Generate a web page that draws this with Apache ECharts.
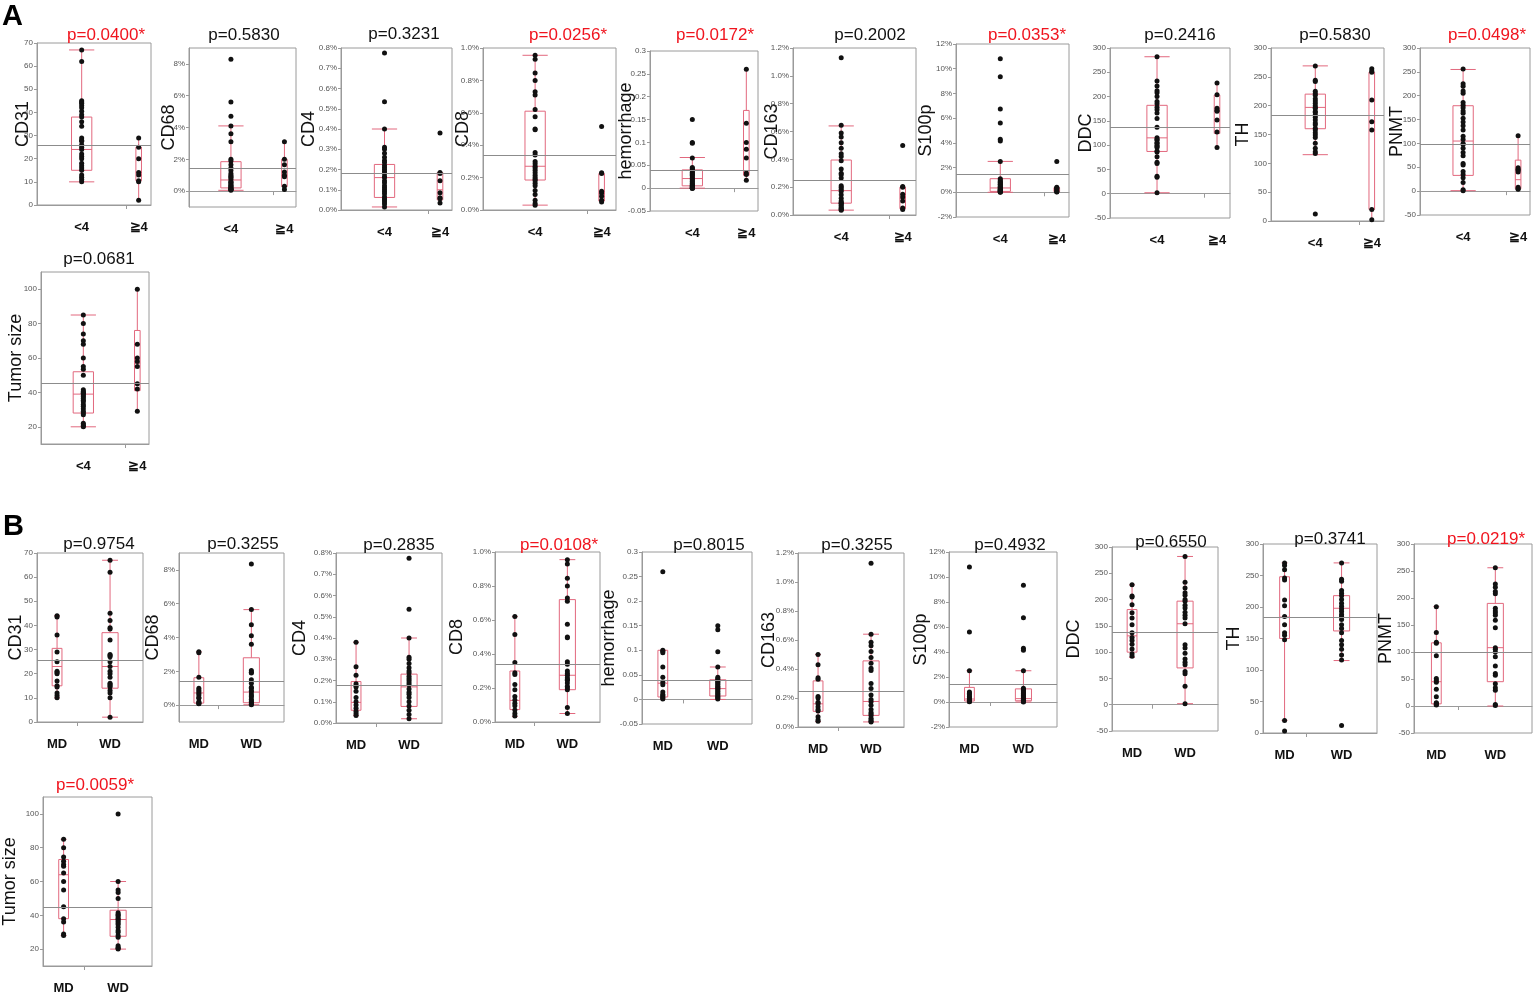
<!DOCTYPE html>
<html lang="en">
<head>
<meta charset="UTF-8">
<title>Box plots by group</title>
<style>
  html, body { margin: 0; background: #fff; }
  #chart { width: 1536px; height: 995px; }
</style>
</head>
<body>
<div id="chart"></div>
<script src="https://cdn.jsdelivr.net/npm/echarts@6/dist/echarts.min.js"></script>
<script>
// group names
var groupsA = ['<4', '≧4'];
var groupsB = ['MD', 'WD'];

// tick values of the y axes
var ticksCD31 = [0, 10, 20, 30, 40, 50, 60, 70];
var ticksCD68 = [0, 2, 4, 6, 8];
var ticksCD4 = [0, 0.1, 0.2, 0.3, 0.4, 0.5, 0.6, 0.7, 0.8];
var ticksCD8 = [0, 0.2, 0.4, 0.6, 0.8, 1.0];
var ticksHem = [-0.05, 0, 0.05, 0.1, 0.15, 0.2, 0.25, 0.3];
var ticksCD163 = [0, 0.2, 0.4, 0.6, 0.8, 1.0, 1.2];
var ticksS100 = [-2, 0, 2, 4, 6, 8, 10, 12];
var ticksDDC = [-50, 0, 50, 100, 150, 200, 250, 300];
var ticksTH = [0, 50, 100, 150, 200, 250, 300];
var ticksPNMT = [-50, 0, 50, 100, 150, 200, 250, 300];
var ticksTumor = [20, 40, 60, 80, 100];

// ---- panel A : <4 vs ≧4 ----  box = [min, Q1, median, Q3, max]
var aCD31Lo = [67, 62, 45, 44.5, 44, 43, 42, 40.5, 39, 38, 36, 34, 29, 28, 27.5, 26, 25, 24, 22, 21, 20, 18, 17, 16, 15, 13, 12, 11, 10];
var aCD31Hi = [29, 25, 20, 14, 13, 10.5, 10, 2];
var aCD31Box = [[10, 15, 24, 38, 67], [2, 10.5, 14, 25, 29]];
var aCD31Mean = 25.7;

var aCD68Lo = [8.3, 5.6, 4.7, 4.1, 3.6, 3.1, 2.0, 1.9, 1.65, 1.45, 1.3, 1.1, 1.0, 0.9, 0.85, 0.75, 0.6, 0.55, 0.5, 0.4, 0.35, 0.3, 0.25, 0.2, 0.15, 0.12, 0.1, 0.08, 0.05];
var aCD68Hi = [3.1, 2.0, 1.65, 1.2, 1.0, 0.9, 0.3, 0.1];
var aCD68Box = [[0.05, 0.2, 0.7, 1.85, 4.1], [0.1, 0.28, 1.0, 2.0, 3.1]];
var aCD68Mean = 1.46;

var aCD4Lo = [0.775, 0.535, 0.40, 0.31, 0.30, 0.28, 0.26, 0.245, 0.235, 0.22, 0.21, 0.20, 0.19, 0.18, 0.165, 0.16, 0.145, 0.135, 0.12, 0.11, 0.10, 0.09, 0.08, 0.065, 0.055, 0.05, 0.04, 0.03, 0.015];
var aCD4Hi = [0.38, 0.185, 0.18, 0.145, 0.085, 0.06, 0.055, 0.035];
var aCD4Box = [[0.015, 0.062, 0.16, 0.225, 0.40], [0.035, 0.05, 0.1, 0.185, 0.185]];
var aCD4Mean = 0.176;

var aCD8Lo = [0.955, 0.93, 0.845, 0.80, 0.73, 0.71, 0.62, 0.575, 0.50, 0.495, 0.355, 0.34, 0.30, 0.285, 0.27, 0.26, 0.245, 0.23, 0.215, 0.20, 0.19, 0.18, 0.165, 0.15, 0.12, 0.095, 0.06, 0.04, 0.03];
var aCD8Hi = [0.515, 0.23, 0.225, 0.115, 0.105, 0.085, 0.06, 0.05];
var aCD8Box = [[0.03, 0.185, 0.27, 0.61, 0.955], [0.05, 0.055, 0.1, 0.225, 0.23]];
var aCD8Mean = 0.336;

var aHemLo = [0.15, 0.10, 0.098, 0.066, 0.045, 0.043, 0.04, 0.038, 0.035, 0.032, 0.03, 0.028, 0.025, 0.022, 0.02, 0.018, 0.015, 0.012, 0.01, 0.008, 0.006, 0.005, 0.004, 0.003, 0.002, 0.001, 0, 0, 0];
var aHemHi = [0.26, 0.142, 0.10, 0.085, 0.066, 0.033, 0.03, 0.017];
var aHemBox = [[0, 0.005, 0.021, 0.04, 0.067], [0.017, 0.028, 0.083, 0.17, 0.26]];
var aHemMean = 0.042;

var aCD163Lo = [1.13, 0.645, 0.59, 0.56, 0.52, 0.48, 0.44, 0.42, 0.39, 0.33, 0.30, 0.29, 0.265, 0.21, 0.20, 0.185, 0.17, 0.145, 0.12, 0.10, 0.09, 0.085, 0.08, 0.07, 0.06, 0.05, 0.045, 0.04, 0.035];
var aCD163Hi = [0.50, 0.205, 0.2, 0.15, 0.13, 0.10, 0.05, 0.04];
var aCD163Box = [[0.035, 0.085, 0.175, 0.395, 0.64], [0.04, 0.045, 0.12, 0.2, 0.205]];
var aCD163Mean = 0.252;

var aS100Lo = [10.8, 9.35, 6.75, 5.6, 4.3, 4.15, 2.5, 1.1, 1.0, 0.9, 0.8, 0.75, 0.65, 0.6, 0.5, 0.45, 0.4, 0.35, 0.3, 0.25, 0.2, 0.18, 0.15, 0.12, 0.1, 0.07, 0.05, 0.03, 0.01];
var aS100Hi = [2.5, 0.4, 0.35, 0.3, 0.2, 0.1, 0.05, 0.02];
var aS100Box = [[0, 0.07, 0.35, 1.1, 2.5], [0.02, 0.05, 0.25, 0.38, 0.4]];
var aS100Mean = 1.43;

var aDDCLo = [282, 232, 222, 212, 208, 200, 190, 185, 178, 173, 166, 155, 137, 115, 112, 110, 105, 104, 100, 97, 95, 88, 86, 76, 65, 62, 36, 34, 2];
var aDDCHi = [228, 204, 176, 172, 170, 152, 127, 95];
var aDDCBox = [[2, 87, 115, 182, 282], [95, 124, 170, 203, 228]];
var aDDCMean = 137;

var aTHLo = [269, 244, 242, 225, 221, 218, 212, 208, 204, 200, 197, 195, 190, 188, 184, 180, 175, 170, 167, 161, 158, 153, 149, 145, 135, 126, 120, 117, 12];
var aTHHi = [264, 260, 258, 210, 172, 158, 20, 2];
var aTHBox = [[115, 160, 197, 220, 269], [2, 20, 172, 258, 264]];
var aTHMean = 184;

var aPNMTLo = [256, 225, 220, 210, 205, 186, 180, 175, 168, 163, 153, 145, 137, 128, 115, 108, 100, 98, 90, 81, 74, 58, 55, 41, 35, 28, 18, 3, 1];
var aPNMTHi = [116, 49, 46, 44, 40, 8, 5, 4];
var aPNMTBox = [[1, 33, 105, 179, 255], [4, 5, 24, 65, 116]];
var aPNMTMean = 99;

var aTumorLo = [85, 80, 74, 70, 68, 60, 55, 53.5, 50, 41.5, 40.5, 40, 39.5, 39, 38, 37.5, 36.5, 35.5, 34.5, 33, 32, 30.5, 29, 28, 27, 22, 21, 20.5, 20];
var aTumorHi = [100, 68, 60, 58, 55, 45, 42, 29];
var aTumorBox = [[20, 28, 39, 52, 85], [29, 41, 57, 76, 100]];
var aTumorMean = 45.1;

// ---- panel B : MD vs WD ----
var bCD31Md = [44, 43.5, 36, 29, 25, 21, 20.5, 20, 17, 15, 14.5, 12, 11, 10];
var bCD31Wd = [67, 62, 45, 42, 39, 38.5, 34, 28, 27.5, 27, 25, 23, 21, 20, 18.5, 16, 15.5, 15, 14.5, 13, 12, 10, 2];
var bCD31Box = [[10, 15, 23, 30.5, 44], [2, 14, 23, 37, 67]];
var bCD31Mean = 25.6;

var bCD68Md = [3.15, 3.1, 1.65, 1.0, 0.9, 0.8, 0.7, 0.6, 0.45, 0.4, 0.2, 0.15, 0.1, 0.08];
var bCD68Wd = [8.35, 5.65, 4.75, 4.1, 3.6, 2.05, 1.95, 1.9, 1.5, 1.3, 1.05, 1.0, 0.85, 0.8, 0.65, 0.55, 0.5, 0.35, 0.25, 0.2, 0.12, 0.05, 0.02];
var bCD68Box = [[0.08, 0.12, 0.72, 1.62, 3.15], [0.02, 0.14, 0.77, 2.8, 5.65]];
var bCD68Mean = 1.44;

var bCD4Md = [0.38, 0.265, 0.225, 0.185, 0.175, 0.17, 0.15, 0.12, 0.1, 0.085, 0.07, 0.055, 0.045, 0.035];
var bCD4Wd = [0.775, 0.535, 0.40, 0.31, 0.30, 0.28, 0.26, 0.245, 0.235, 0.22, 0.21, 0.20, 0.19, 0.18, 0.16, 0.145, 0.135, 0.12, 0.10, 0.08, 0.06, 0.04, 0.02];
var bCD4Box = [[0.035, 0.06, 0.097, 0.195, 0.38], [0.02, 0.078, 0.17, 0.23, 0.40]];
var bCD4Mean = 0.176;

var bCD8Md = [0.62, 0.515, 0.35, 0.29, 0.28, 0.22, 0.19, 0.15, 0.13, 0.11, 0.095, 0.07, 0.05, 0.035];
var bCD8Wd = [0.955, 0.93, 0.845, 0.80, 0.73, 0.71, 0.575, 0.50, 0.495, 0.355, 0.34, 0.30, 0.285, 0.275, 0.26, 0.25, 0.245, 0.23, 0.21, 0.20, 0.19, 0.085, 0.05];
var bCD8Box = [[0.033, 0.073, 0.127, 0.30, 0.62], [0.05, 0.19, 0.275, 0.72, 0.955]];
var bCD8Mean = 0.341;

var bHemMd = [0.26, 0.10, 0.098, 0.095, 0.066, 0.045, 0.035, 0.03, 0.015, 0.01, 0.008, 0.005, 0.003, 0.001];
var bHemWd = [0.15, 0.142, 0.097, 0.066, 0.045, 0.042, 0.04, 0.037, 0.035, 0.032, 0.03, 0.027, 0.025, 0.022, 0.02, 0.017, 0.015, 0.012, 0.01, 0.007, 0.005, 0.003, 0.001];
var bHemBox = [[0, 0.005, 0.033, 0.1, 0.1], [0, 0.007, 0.022, 0.04, 0.066]];
var bHemMean = 0.042;

var bCD163Md = [0.50, 0.43, 0.34, 0.33, 0.21, 0.2, 0.17, 0.16, 0.14, 0.12, 0.11, 0.07, 0.05, 0.04];
var bCD163Wd = [1.13, 0.64, 0.585, 0.56, 0.52, 0.48, 0.44, 0.405, 0.39, 0.30, 0.265, 0.22, 0.19, 0.175, 0.15, 0.12, 0.1, 0.09, 0.08, 0.06, 0.05, 0.04, 0.035];
var bCD163Box = [[0.037, 0.108, 0.16, 0.318, 0.50], [0.035, 0.08, 0.176, 0.456, 0.64]];
var bCD163Mean = 0.25;

var bS100Md = [10.8, 5.6, 2.5, 0.8, 0.7, 0.6, 0.45, 0.4, 0.3, 0.2, 0.15, 0.1, 0.05, 0.02];
var bS100Wd = [9.35, 6.75, 4.3, 4.15, 2.5, 1.1, 1.0, 0.95, 0.85, 0.75, 0.7, 0.6, 0.55, 0.45, 0.4, 0.35, 0.3, 0.25, 0.2, 0.15, 0.1, 0.05, 0.01];
var bS100Box = [[0, 0.08, 0.24, 1.17, 2.5], [0, 0.1, 0.27, 1.05, 2.5]];
var bS100Mean = 1.43;

var bDDCMd = [228, 207, 205, 190, 175, 165, 152, 137, 128, 122, 115, 106, 97, 92];
var bDDCWd = [282, 233, 222, 213, 208, 200, 197, 189, 184, 176, 170, 165, 154, 114, 108, 98, 87, 81, 76, 63, 59, 35, 2];
var bDDCBox = [[90, 100, 131, 181, 228], [2, 70, 154, 197, 282]];
var bDDCMean = 137;

var bTHMd = [270, 266, 259, 246, 243, 211, 202, 185, 172, 159, 155, 148, 20, 3];
var bTHWd = [270, 244, 241, 226, 222, 218, 212, 206, 201, 197, 193, 188, 185, 180, 172, 166, 159, 147, 140, 133, 124, 116, 12];
var bTHBox = [[20, 150, 184, 248, 270], [115, 162, 198, 218, 270]];
var bTHMean = 184;

var bPNMTMd = [184, 136, 118, 116, 93, 51, 47, 44, 31, 17, 6, 5, 3, 2];
var bPNMTWd = [256, 226, 220, 212, 208, 181, 176, 172, 168, 159, 145, 108, 105, 100, 91, 74, 60, 57, 41, 34, 29, 3, 1];
var bPNMTBox = [[2, 4, 45, 117, 184], [0, 45, 108, 190, 256]];
var bPNMTMean = 99;

var bTumorMd = [85, 80, 74.5, 72, 70, 69, 65, 60, 55, 45, 38, 36, 29, 28];
var bTumorWd = [100, 60, 55, 53.5, 50, 41.5, 40.5, 40, 39, 38, 37.5, 36.5, 35.5, 34.5, 33, 31, 30, 28, 27, 22, 21, 20.5, 20];
var bTumorBox = [[28, 38, 64, 73, 85], [20, 27.6, 37.5, 43, 60]];
var bTumorMean = 44.9;

// axis formats
function plain(v) { return String(+v.toFixed(2)); }
function pct0(v) { return Math.round(v) + '%'; }
function pct1(v) { return v.toFixed(1) + '%'; }

var axCD31 = { min: 0, max: 70, ticks: ticksCD31, fmt: plain };
var axCD68 = { min: -1, max: 9, ticks: ticksCD68, fmt: pct0 };
var axCD4 = { min: 0, max: 0.8, ticks: ticksCD4, fmt: pct1 };
var axCD8 = { min: 0, max: 1.0, ticks: ticksCD8, fmt: pct1 };
var axHem = { min: -0.05, max: 0.3, ticks: ticksHem, fmt: plain };
var axCD163 = { min: 0, max: 1.2, ticks: ticksCD163, fmt: pct1 };
var axS100 = { min: -2, max: 12, ticks: ticksS100, fmt: pct0 };
var axDDC = { min: -50, max: 300, ticks: ticksDDC, fmt: plain };
var axTH = { min: 0, max: 300, ticks: ticksTH, fmt: plain };
var axPNMT = { min: -50, max: 300, ticks: ticksPNMT, fmt: plain };
var axTumor = { min: 10, max: 110, ticks: ticksTumor, fmt: plain };

// rect = [left, top, right, bottom], tx/ty = title centre/top, gap = name gap
var plots = [
  { g: groupsA, d: [aCD31Lo, aCD31Hi], box: aCD31Box, mean: aCD31Mean, ax: axCD31, name: 'CD31', p: 'p=0.0400*', sig: true, rect: [37, 43, 151, 205], tx: 101, ty: 22, gap: 5 },
  { g: groupsA, d: [aCD68Lo, aCD68Hi], box: aCD68Box, mean: aCD68Mean, ax: axCD68, name: 'CD68', p: 'p=0.5830', sig: false, rect: [189, 48, 296, 207], tx: 239, ty: 22, gap: 11 },
  { g: groupsA, d: [aCD4Lo, aCD4Hi], box: aCD4Box, mean: aCD4Mean, ax: axCD4, name: 'CD4', p: 'p=0.3231', sig: false, rect: [341, 48, 452, 210], tx: 399, ty: 21, gap: 23 },
  { g: groupsA, d: [aCD8Lo, aCD8Hi], box: aCD8Box, mean: aCD8Mean, ax: axCD8, name: 'CD8', p: 'p=0.0256*', sig: true, rect: [483, 48, 616, 210], tx: 563, ty: 22, gap: 11 },
  { g: groupsA, d: [aHemLo, aHemHi], box: aHemBox, mean: aHemMean, ax: axHem, name: 'hemorrhage', p: 'p=0.0172*', sig: true, rect: [650, 51, 758, 211], tx: 710, ty: 22, gap: 15 },
  { g: groupsA, d: [aCD163Lo, aCD163Hi], box: aCD163Box, mean: aCD163Mean, ax: axCD163, name: 'CD163', p: 'p=0.2002', sig: false, rect: [793, 48, 916, 215], tx: 865, ty: 22, gap: 12 },
  { g: groupsA, d: [aS100Lo, aS100Hi], box: aS100Box, mean: aS100Mean, ax: axS100, name: 'S100p', p: 'p=0.0353*', sig: true, rect: [956, 44, 1069, 217], tx: 1022, ty: 22, gap: 21 },
  { g: groupsA, d: [aDDCLo, aDDCHi], box: aDDCBox, mean: aDDCMean, ax: axDDC, name: 'DDC', p: 'p=0.2416', sig: false, rect: [1110, 48, 1230, 218], tx: 1175, ty: 22, gap: 15 },
  { g: groupsA, d: [aTHLo, aTHHi], box: aTHBox, mean: aTHMean, ax: axTH, name: 'TH', p: 'p=0.5830', sig: false, rect: [1271, 48, 1384, 221], tx: 1330, ty: 22, gap: 19 },
  { g: groupsA, d: [aPNMTLo, aPNMTHi], box: aPNMTBox, mean: aPNMTMean, ax: axPNMT, name: 'PNMT', p: 'p=0.0498*', sig: true, rect: [1420, 48, 1530, 215], tx: 1482, ty: 22, gap: 14 },
  { g: groupsA, d: [aTumorLo, aTumorHi], box: aTumorBox, mean: aTumorMean, ax: axTumor, name: 'Tumor size', p: 'p=0.0681', sig: false, rect: [41, 272, 149, 444], tx: 94, ty: 246, gap: 16 },

  { g: groupsB, d: [bCD31Md, bCD31Wd], box: bCD31Box, mean: bCD31Mean, ax: axCD31, name: 'CD31', p: 'p=0.9754', sig: false, rect: [37, 553, 143, 722], tx: 94, ty: 531, gap: 12 },
  { g: groupsB, d: [bCD68Md, bCD68Wd], box: bCD68Box, mean: bCD68Mean, ax: axCD68, name: 'CD68', p: 'p=0.3255', sig: false, rect: [179, 553, 284, 722], tx: 238, ty: 531, gap: 17 },
  { g: groupsB, d: [bCD4Md, bCD4Wd], box: bCD4Box, mean: bCD4Mean, ax: axCD4, name: 'CD4', p: 'p=0.2835', sig: false, rect: [336, 553, 442, 723], tx: 394, ty: 532, gap: 27 },
  { g: groupsB, d: [bCD8Md, bCD8Wd], box: bCD8Box, mean: bCD8Mean, ax: axCD8, name: 'CD8', p: 'p=0.0108*', sig: true, rect: [495, 552, 600, 722], tx: 554, ty: 532, gap: 29 },
  { g: groupsB, d: [bHemMd, bHemWd], box: bHemBox, mean: bHemMean, ax: axHem, name: 'hemorrhage', p: 'p=0.8015', sig: false, rect: [642, 552, 752, 724], tx: 704, ty: 532, gap: 24 },
  { g: groupsB, d: [bCD163Md, bCD163Wd], box: bCD163Box, mean: bCD163Mean, ax: axCD163, name: 'CD163', p: 'p=0.3255', sig: false, rect: [798, 553, 904, 727], tx: 852, ty: 532, gap: 20 },
  { g: groupsB, d: [bS100Md, bS100Wd], box: bS100Box, mean: bS100Mean, ax: axS100, name: 'S100p', p: 'p=0.4932', sig: false, rect: [949, 552, 1057, 727], tx: 1005, ty: 532, gap: 19 },
  { g: groupsB, d: [bDDCMd, bDDCWd], box: bDDCBox, mean: bDDCMean, ax: axDDC, name: 'DDC', p: 'p=0.6550', sig: false, rect: [1112, 547, 1218, 731], tx: 1166, ty: 529, gap: 29 },
  { g: groupsB, d: [bTHMd, bTHWd], box: bTHBox, mean: bTHMean, ax: axTH, name: 'TH', p: 'p=0.3741', sig: false, rect: [1263, 544, 1377, 733], tx: 1325, ty: 526, gap: 20 },
  { g: groupsB, d: [bPNMTMd, bPNMTWd], box: bPNMTBox, mean: bPNMTMean, ax: axPNMT, name: 'PNMT', p: 'p=0.0219*', sig: true, rect: [1414, 544, 1532, 733], tx: 1481, ty: 526, gap: 19 },
  { g: groupsB, d: [bTumorMd, bTumorWd], box: bTumorBox, mean: bTumorMean, ax: axTumor, name: 'Tumor size', p: 'p=0.0059*', sig: true, rect: [42, 797, 152, 968], tx: 90, ty: 772, gap: 24 }
];

var BOX = '#e2687e';
var FONT = 'Liberation Sans, Arial, sans-serif';

// quantile box: whiskers, caps, box and median; width grows with group size
function renderBox(params, api) {
  var x = api.value(0), n = api.value(6);
  var hw = 0.35 * n, cw = Math.max(1.5, 0.015 * n * n);
  var lo = api.coord([x, api.value(1)]), q1 = api.coord([x, api.value(2)]);
  var md = api.coord([x, api.value(3)]), q3 = api.coord([x, api.value(4)]);
  var hi = api.coord([x, api.value(5)]);
  var cx = lo[0];
  var st = { stroke: BOX, lineWidth: 1, fill: null };
  return {
    type: 'group',
    children: [
      { type: 'line', shape: { x1: cx, y1: hi[1], x2: cx, y2: q3[1] }, style: st },
      { type: 'line', shape: { x1: cx, y1: q1[1], x2: cx, y2: lo[1] }, style: st },
      { type: 'line', shape: { x1: cx - cw, y1: hi[1], x2: cx + cw, y2: hi[1] }, style: st },
      { type: 'line', shape: { x1: cx - cw, y1: lo[1], x2: cx + cw, y2: lo[1] }, style: st },
      { type: 'rect', shape: { x: cx - hw, y: q3[1], width: 2 * hw, height: q1[1] - q3[1] }, style: { stroke: BOX, lineWidth: 1, fill: 'none' } },
      { type: 'line', shape: { x1: cx - hw, y1: md[1], x2: cx + hw, y2: md[1] }, style: st }
    ]
  };
}

var option = {
  animation: false,
  backgroundColor: '#fff',
  title: [
    { text: 'A', left: -3, top: -3, textStyle: { fontSize: 29, fontWeight: 'bold', color: '#000', fontFamily: FONT } },
    { text: 'B', left: -2, top: 507, textStyle: { fontSize: 29, fontWeight: 'bold', color: '#000', fontFamily: FONT } }
  ],
  grid: [], xAxis: [], yAxis: [], series: []
};

plots.forEach(function (p, i) {
  var r = p.rect;
  var n1 = p.d[0].length, n2 = p.d[1].length;
  var split = n1 / (n1 + n2);
  var c = [split / 2, (1 + split) / 2];

  option.title.push({
    text: p.p, left: p.tx, top: p.ty, textAlign: 'center',
    textStyle: { fontSize: 17, fontWeight: 'normal', color: p.sig ? '#f0141e' : '#111', fontFamily: FONT }
  });
  option.grid.push({
    left: r[0], top: r[1], width: r[2] - r[0], height: r[3] - r[1],
    show: true, borderColor: '#9a9a9a', borderWidth: 1
  });
  option.xAxis.push({
    type: 'value', gridIndex: i, min: 0, max: 1,
    splitLine: { show: false },
    axisLine: { show: true, lineStyle: { color: '#9a9a9a' } },
    axisTick: { show: true, customValues: [split], length: 4, lineStyle: { color: '#9a9a9a' } },
    axisLabel: {
      customValues: c, margin: 16, color: '#111', fontSize: 13, fontWeight: 'bold', fontFamily: FONT,
      formatter: function (v) { return Math.abs(v - c[0]) < 1e-9 ? p.g[0] : p.g[1]; }
    }
  });
  option.yAxis.push({
    type: 'value', gridIndex: i, min: p.ax.min, max: p.ax.max,
    name: p.name, nameLocation: 'middle', nameGap: p.gap, nameMoveOverlap: false,
    nameTextStyle: { fontSize: 18, color: '#111', fontFamily: FONT },
    splitLine: { show: false },
    axisLine: { show: true, lineStyle: { color: '#9a9a9a' } },
    axisTick: { show: true, customValues: p.ax.ticks, length: 3, lineStyle: { color: '#9a9a9a' } },
    axisLabel: { customValues: p.ax.ticks, formatter: p.ax.fmt, fontSize: 8, color: '#555', margin: 4, fontFamily: FONT }
  });
  option.series.push({
    type: 'custom', xAxisIndex: i, yAxisIndex: i, silent: true, z: 2,
    renderItem: renderBox,
    data: [[c[0]].concat(p.box[0], [n1]), [c[1]].concat(p.box[1], [n2])]
  });
  option.series.push({
    type: 'scatter', xAxisIndex: i, yAxisIndex: i, silent: true, z: 3,
    symbolSize: 5, itemStyle: { color: '#111', opacity: 1 },
    data: p.d[0].map(function (v) { return [c[0], v]; }).concat(p.d[1].map(function (v) { return [c[1], v]; })),
    markLine: {
      silent: true, symbol: 'none', label: { show: false },
      lineStyle: { color: '#8c8c8c', width: 1, type: 'solid' },
      data: [{ yAxis: p.mean }]
    }
  });
});

var chart = echarts.init(document.getElementById('chart'));
chart.setOption(option);
</script>
</body>
</html>
